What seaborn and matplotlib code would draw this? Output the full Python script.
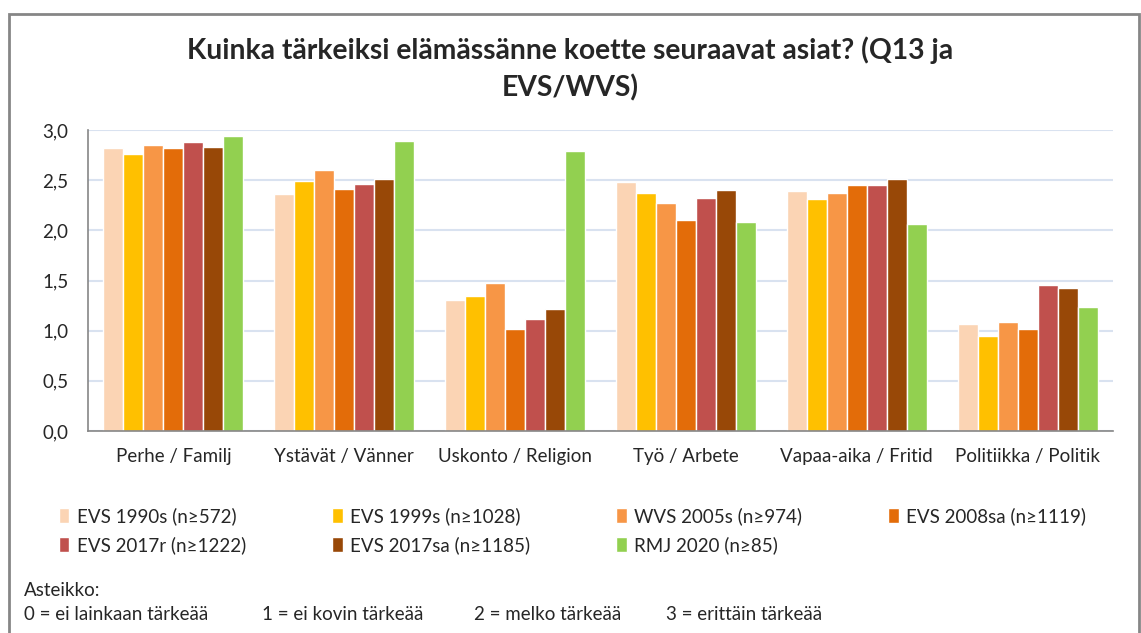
import numpy as np
import pandas as pd
import matplotlib as mpl
import matplotlib.pyplot as plt
import seaborn as sns
from matplotlib.patches import Rectangle

categories = ["Perhe / Familj", "Ystävät / Vänner", "Uskonto / Religion",
              "Työ / Arbete", "Vapaa-aika / Fritid", "Politiikka / Politik"]
series = ["EVS 1990s (n≥572)", "EVS 1999s (n≥1028)", "WVS 2005s (n≥974)",
          "EVS 2008sa (n≥1119)", "EVS 2017r (n≥1222)", "EVS 2017sa (n≥1185)",
          "RMJ 2020 (n≥85)"]
evs_1990 = [2.82, 2.36, 1.31, 2.48, 2.39, 1.07]
evs_1999 = [2.76, 2.49, 1.35, 2.37, 2.31, 0.95]
wvs_2005 = [2.85, 2.60, 1.48, 2.27, 2.37, 1.09]
evs_2008 = [2.82, 2.41, 1.02, 2.10, 2.45, 1.02]
evs_2017r = [2.88, 2.46, 1.12, 2.32, 2.45, 1.46]
evs_2017sa = [2.83, 2.51, 1.22, 2.40, 2.51, 1.43]
rmj_2020 = [2.94, 2.89, 2.79, 2.08, 2.06, 1.24]
colors = ["#FBD4B4", "#FFC000", "#F79646", "#E36C09", "#C0504D", "#984807", "#92D050"]

values = [evs_1990, evs_1999, wvs_2005, evs_2008, evs_2017r, evs_2017sa, rmj_2020]
rows = []
for s, vals in zip(series, values):
    for c, v in zip(categories, vals):
        rows.append({"kohde": c, "aineisto": s, "arvo": v})
df = pd.DataFrame(rows)

sns.set_style("white")
plt.rcParams['font.family'] = ['Lato', 'DejaVu Sans']

fig = plt.figure(figsize=(11.41, 6.33), dpi=100)
ax = fig.add_axes([88/1141, 1 - 431/633, (1113-88)/1141, 301/633])

sns.barplot(data=df, x="kohde", y="arvo", hue="aineisto", order=categories,
            hue_order=series, palette=colors, saturation=1, width=0.82, ax=ax)

ax.set_ylim(0, 3.0)
ax.set_xlim(-0.5, len(categories) - 0.5)
ax.set_yticks(np.arange(0, 3.01, 0.5))
ax.yaxis.set_major_formatter(mpl.ticker.FuncFormatter(lambda v, p: f"{v:.1f}".replace(".", ",")))
ax.set_xlabel("")
ax.set_ylabel("")
ax.grid(axis="y", color="#D9E2F0", linewidth=1.5)
ax.set_axisbelow(True)
for side in ["top", "right"]:
    ax.spines[side].set_visible(False)
for side in ["left", "bottom"]:
    ax.spines[side].set_color("#868686")
    ax.spines[side].set_linewidth(1.2)

ax.tick_params(axis="y", length=6, color="#868686", labelsize=13.5, pad=8)
ax.tick_params(axis="x", length=0, labelsize=13.5, pad=12)
ax.set_xticks(np.arange(-0.5, len(categories)), minor=True)
ax.tick_params(axis="x", which="minor", length=6, color="#868686")

# legend filled row by row like the original
ax.legend_.remove()
handles, labels = ax.get_legend_handles_labels()
order = [0, 4, 1, 5, 2, 6, 3]
fig.legend([handles[i] for i in order], [labels[i] for i in order], ncol=4,
           loc="upper left", bbox_to_anchor=(42/1141, 1 - 490/633),
           frameon=False, fontsize=13.5, handlelength=0.55, handleheight=0.9,
           handletextpad=0.4, columnspacing=4.6, labelspacing=0.6)

fig.text(0.5, 1 - 50/633, "Kuinka tärkeiksi elämässänne koette seuraavat asiat? (Q13 ja",
         ha="center", va="center", fontsize=20.3, fontweight="bold")
fig.text(0.5, 1 - 88/633, "EVS/WVS)", ha="center", va="center", fontsize=20.3, fontweight="bold")

fig.text(24/1141, 1 - 590/633, "Asteikko:", ha="left", va="center", fontsize=13.5)
scale_labels = ["0 = ei lainkaan tärkeää", "1 = ei kovin tärkeää",
                "2 = melko tärkeää", "3 = erittäin tärkeää"]
scale_x = [24, 262, 474, 666]
for x, t in zip(scale_x, scale_labels):
    fig.text(x/1141, 1 - 615/633, t, ha="left", va="center", fontsize=13.5)

fig.patches.append(Rectangle((9/1141, -0.05), (1139-9)/1141, 1.05 - 14/633,
                             transform=fig.transFigure, fill=False,
                             edgecolor="#868686", linewidth=2))

fig.savefig("out.png", dpi=100)
